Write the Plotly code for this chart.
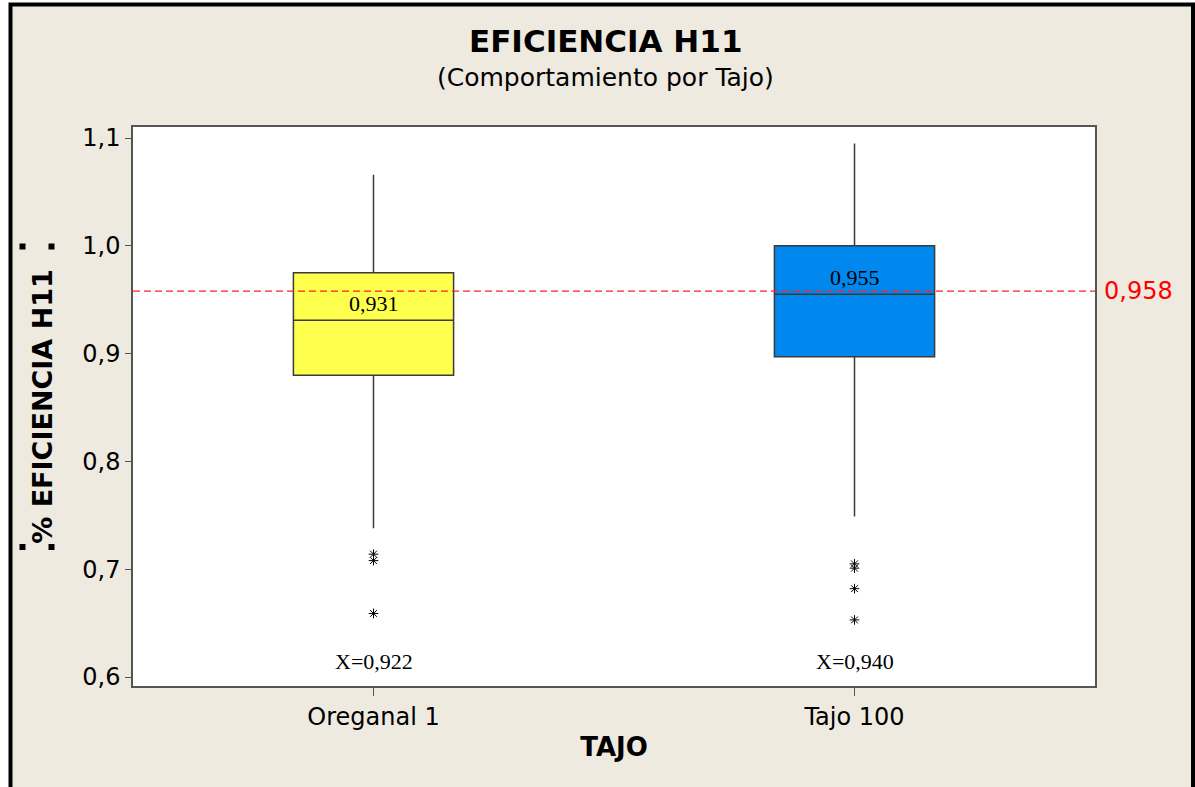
import plotly.graph_objects as go

categories = ["Oreganal 1", "Tajo 100"]
q1 = [0.880, 0.897]
median = [0.931, 0.955]
q3 = [0.975, 1.000]
lower_whisker = [0.738, 0.749]
upper_whisker = [1.066, 1.095]
means = [0.922, 0.940]
outliers = [[0.714, 0.708, 0.659], [0.705, 0.701, 0.682, 0.653]]
box_colors = ["#FFFF4D", "#0088EE"]
reference = 0.958
y_ticks = [0.6, 0.7, 0.8, 0.9, 1.0, 1.1]

BEIGE = "#EFEAE0"
FONT = "DejaVu Sans"
SERIF = "Liberation Serif"

def fmt(v):
    return f"{v:.3f}".replace(".", ",")

fig = go.Figure()

for i, cat in enumerate(categories):
    fig.add_trace(go.Box(
        x=[cat], q1=[q1[i]], median=[median[i]], q3=[q3[i]],
        lowerfence=[lower_whisker[i]], upperfence=[upper_whisker[i]],
        fillcolor=box_colors[i], line=dict(color="#3a3a3a", width=1.5),
        whiskerwidth=0, width=0.333, boxpoints=False, showlegend=False,
        hoverinfo="skip",
    ))
    fig.add_trace(go.Scatter(
        x=[cat] * len(outliers[i]), y=outliers[i], mode="markers",
        marker=dict(symbol="asterisk-open", size=8, color="black",
                    line=dict(color="black", width=1)),
        showlegend=False, hoverinfo="skip",
    ))
    fig.add_annotation(x=cat, y=median[i], yshift=17, text=fmt(median[i]),
                       showarrow=False, font=dict(family=SERIF, size=22, color="black"))
    fig.add_annotation(x=cat, y=y_ticks[0], yshift=16, text="X=" + fmt(means[i]),
                       showarrow=False, font=dict(family=SERIF, size=22, color="black"))

fig.add_shape(type="line", xref="paper", x0=0, x1=1, yref="y", y0=reference, y1=reference,
              line=dict(color="#FF2020", width=1.2, dash="7px,4px"))
fig.add_annotation(xref="paper", x=1.0, xanchor="left", xshift=7, yref="y", y=reference,
                   text=fmt(reference), showarrow=False,
                   font=dict(family=FONT, size=24, color="#FF0000"))

W, H = 1195, 787
L, R, T, B = 133, 1095, 127, 686
def px(x):
    return (x - L) / (R - L)
def py(y):
    return (B - y) / (B - T)

# outer frame (beige panel with black border) then white plot area on top
fig.add_shape(type="rect", xref="paper", yref="paper",
              x0=px(10.5), x1=px(1193), y0=py(800), y1=py(4.5),
              line=dict(color="black", width=4), fillcolor=BEIGE, layer="below")
fig.add_shape(type="rect", xref="paper", yref="paper", x0=0, x1=1, y0=0, y1=1,
              line=dict(width=0), fillcolor="white", layer="below")

# small selection handles around y-axis title
for (cx, cy) in [(22.5, 246.5), (51.5, 246.5), (22.5, 547), (51.5, 547)]:
    fig.add_shape(type="rect", xref="paper", yref="paper",
                  x0=px(cx - 3), x1=px(cx + 3), y0=py(cy + 3), y1=py(cy - 3),
                  line=dict(width=0), fillcolor="black")

fig.add_annotation(xref="paper", yref="paper", x=px(605), y=py(41), yanchor="middle",
                   text="<b>EFICIENCIA H11</b>", showarrow=False,
                   font=dict(family=FONT, size=31, color="black"))
fig.add_annotation(xref="paper", yref="paper", x=px(605), y=py(78), yanchor="middle",
                   text="(Comportamiento por Tajo)", showarrow=False,
                   font=dict(family=FONT, size=25, color="black"))

fig.update_layout(
    width=W, height=H,
    margin=dict(l=L, r=W - R, t=T, b=H - B, pad=0),
    paper_bgcolor="white", plot_bgcolor="white",
    separators=",.",
    font=dict(family=FONT, size=24, color="black"),
    xaxis=dict(
        type="category", range=[-0.5, 1.5], categoryorder="array", categoryarray=categories,
        showline=True, linecolor="#555555", linewidth=1.5, mirror=True,
        ticks="outside", ticklen=8, tickcolor="#555555", showgrid=False, zeroline=False,
        tickfont=dict(family=FONT, size=24),
        title=dict(text="<b>TAJO</b>", font=dict(family=FONT, size=26), standoff=8),
    ),
    yaxis=dict(
        range=[0.5917, 1.1102], tickvals=y_ticks, tickformat=".1f",
        showline=True, linecolor="#555555", linewidth=1.5, mirror=True,
        ticks="outside", ticklen=6, tickcolor="#555555", showgrid=False, zeroline=False,
        tickfont=dict(family=FONT, size=24),
        title=dict(text="<b>% EFICIENCIA H11</b>", font=dict(family=FONT, size=27), standoff=22),
    ),
)

fig.write_html("out.html", config={"displayModeBar": False},
               post_script="document.body.style.margin='0px';")
